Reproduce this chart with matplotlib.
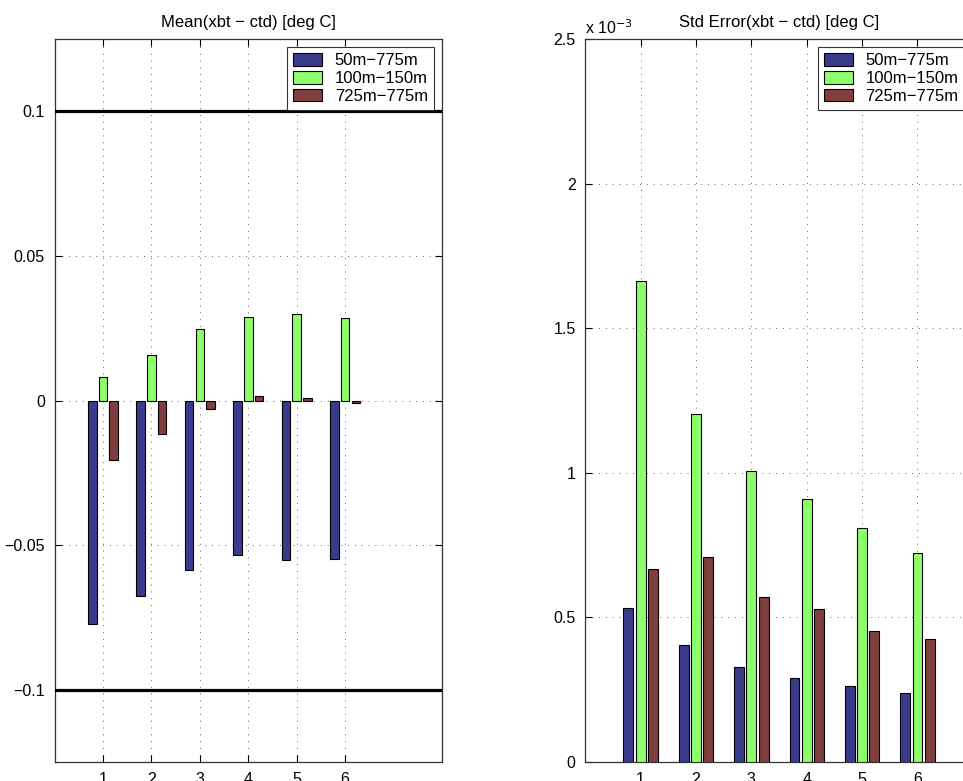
import matplotlib
matplotlib.use("Agg")
import matplotlib.pyplot as plt
import numpy as np
from matplotlib.ticker import FuncFormatter

plt.rcParams['font.family'] = ['Liberation Sans', 'DejaVu Sans']
plt.rcParams['font.size'] = 11

# data
stations = [1, 2, 3, 4, 5, 6]
labels = ["50m\u2212775m", "100m\u2212150m", "725m\u2212775m"]

mean_50_775 = [-0.0772, -0.0676, -0.0586, -0.0534, -0.0551, -0.0548]
mean_100_150 = [0.0081, 0.0159, 0.0246, 0.0290, 0.0298, 0.0287]
mean_725_775 = [-0.0204, -0.0117, -0.0029, 0.0014, 0.0009, -0.0008]

se_50_775 = [0.532e-3, 0.405e-3, 0.327e-3, 0.291e-3, 0.264e-3, 0.239e-3]
se_100_150 = [1.664e-3, 1.204e-3, 1.008e-3, 0.909e-3, 0.809e-3, 0.722e-3]
se_725_775 = [0.666e-3, 0.709e-3, 0.572e-3, 0.528e-3, 0.453e-3, 0.426e-3]

colors = ["#3b3b8c", "#8cff6a", "#7f3f3f"]

fig = plt.figure(figsize=(9.63, 7.81), dpi=100)
ax1 = fig.add_axes([0.0566, 0.0243, 0.4024, 0.9257])
ax2 = fig.add_axes([0.6078, 0.0243, 0.4024, 0.9257])

x = np.array(stations)
offset = 0.222
width = 0.178


def grouped(ax, series):
    for i, vals in enumerate(series):
        ax.bar(x + (i - 1) * offset, vals, width, color=colors[i],
               edgecolor="black", linewidth=0.8, label=labels[i], zorder=3)


def style(ax):
    ax.set_xticks(stations)
    ax.tick_params(direction="in", length=5, top=True, right=True,
                   labelsize=11.5, pad=7, width=0.8)
    ax.grid(True, linestyle=(0, (1, 6)), color="#666666", linewidth=0.7, zorder=0)
    for s in ax.spines.values():
        s.set_color("#333333")
        s.set_linewidth(0.9)
    leg = ax.legend(loc="upper right", fancybox=False, framealpha=1,
                    edgecolor="#333333", handlelength=1.74, handleheight=0.8,
                    borderaxespad=0.5, labelspacing=0.15, handletextpad=0.75,
                    borderpad=0.35, fontsize=12)
    leg.get_frame().set_linewidth(0.8)
    leg.set_zorder(5)


# left: mean difference
grouped(ax1, [mean_50_775, mean_100_150, mean_725_775])
ax1.axhline(0.1, color="black", linewidth=2.3, zorder=4)
ax1.axhline(-0.1, color="black", linewidth=2.3, zorder=4)
ax1.set_xlim(0, 8)
ax1.set_ylim(-0.125, 0.125)
ax1.set_yticks([-0.1, -0.05, 0, 0.05, 0.1])
ax1.yaxis.set_major_formatter(FuncFormatter(lambda v, p: ("%g" % round(v, 3)).replace("-", "\u2212")))
ax1.set_title("Mean(xbt \u2212 ctd) [deg C]", fontsize=12, pad=9)
style(ax1)

# right: standard error
grouped(ax2, [se_50_775, se_100_150, se_725_775])
ax2.set_xlim(0, 7)
ax2.set_ylim(0, 2.5e-3)
ax2.set_yticks([0, 0.5e-3, 1e-3, 1.5e-3, 2e-3, 2.5e-3])
ax2.yaxis.set_major_formatter(FuncFormatter(lambda v, p: "%g" % round(v * 1e3, 3)))
ax2.set_title("Std Error(xbt \u2212 ctd) [deg C]", fontsize=12, pad=9)
ax2.text(0.0, 1.003, "x 10$^{\u22123}$", transform=ax2.transAxes,
         ha="left", va="bottom", fontsize=11.5)
style(ax2)

fig.savefig("out.png", dpi=100)
